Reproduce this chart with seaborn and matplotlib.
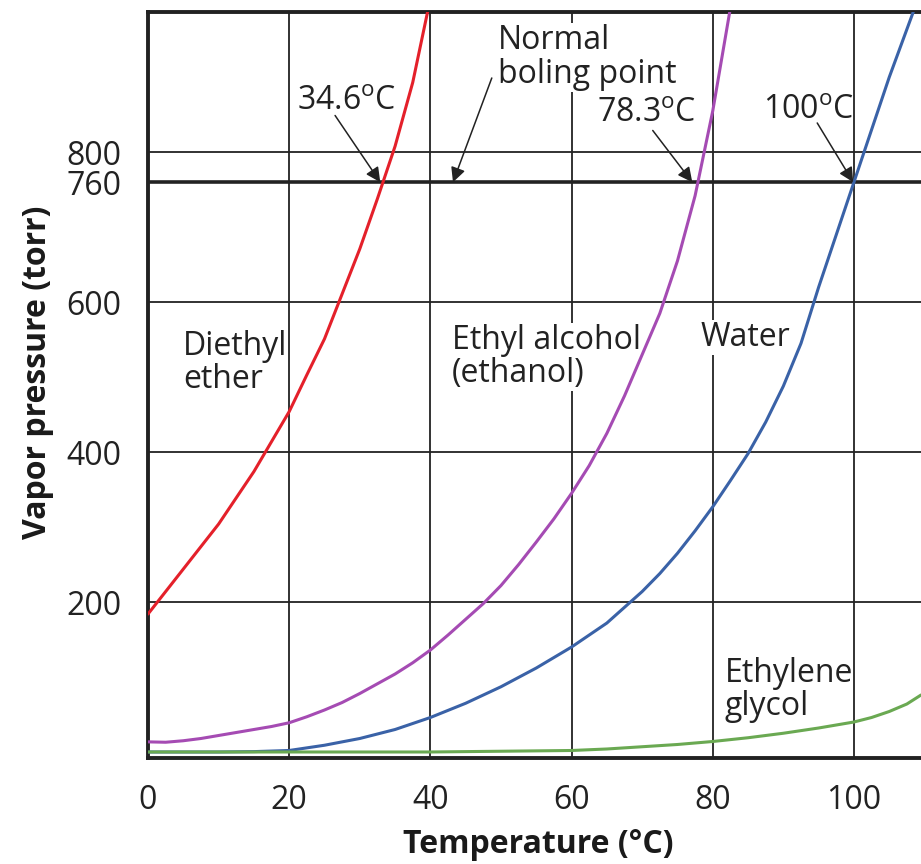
import matplotlib
matplotlib.use("Agg")
import matplotlib.pyplot as plt
import numpy as np
import pandas as pd
import seaborn as sns

# ---- data ----
temp_ether = [0, 2.5, 5, 7.5, 10, 12.5, 15, 17.5, 20, 22.5, 25, 27.5, 30, 32.5, 35, 37.5, 39.6]
vp_ether = [184, 214, 244, 274, 304, 339, 374, 414, 454, 503, 551, 611, 671, 738, 808, 893, 987]

temp_ethanol = [0, 2.5, 5, 7.5, 10, 12.5, 15, 17.5, 20, 22.5, 25, 27.5, 30, 32.5, 35, 37.5,
                40, 42.5, 45, 47.5, 50, 52.5, 55, 57.5, 60, 62.5, 65, 67.5, 70, 72.5, 75,
                77.5, 80, 82.4]
vp_ethanol = [13.5, 13, 15, 18, 22, 26, 30, 34, 39, 47, 56, 66, 78, 91, 104, 119,
              136, 156, 177, 198, 222, 250, 280, 311, 345, 382, 425, 475, 530, 585, 655,
              742, 855, 987]

temp_water = [0, 5, 10, 15, 20, 25, 30, 35, 40, 45, 50, 55, 60, 65, 70, 72.5, 75, 77.5,
              80, 82.5, 85, 87.5, 90, 92.5, 95, 97.5, 100, 102.5, 105, 108.4]
vp_water = [0, 0, 0, 0.5, 2, 9, 18, 30, 46, 65, 87, 112, 140, 172, 214, 238, 265, 295,
            327, 362, 398, 440, 488, 545, 620, 690, 760, 830, 900, 987]

temp_glycol = [0, 10, 20, 30, 40, 50, 60, 65, 70, 75, 80, 85, 90, 95, 100, 102.5, 105, 107.5, 109.5]
vp_glycol = [0, 0, 0, 0, 0, 1, 2, 4, 7, 10, 14, 19, 25, 32, 40, 46, 54, 64, 76]

liquids = ["Diethyl ether", "Ethyl alcohol", "Water", "Ethylene glycol"]
colors = ["#e4202a", "#a54bb3", "#3a62a7", "#6aa952"]

x_ticks = [0, 20, 40, 60, 80, 100]
y_ticks = [200, 400, 600, 760, 800]

boiling_labels = ["34.6$^{\\mathrm{o}}$C", "78.3$^{\\mathrm{o}}$C", "100$^{\\mathrm{o}}$C"]

# ---- build long-form table ----
frames = []
for name, t, p in zip(liquids,
                      [temp_ether, temp_ethanol, temp_water, temp_glycol],
                      [vp_ether, vp_ethanol, vp_water, vp_glycol]):
    frames.append(pd.DataFrame({"Temperature": t, "Pressure": p, "Liquid": name}))
df = pd.concat(frames, ignore_index=True)

sns.set_theme(style="white")
plt.rcParams["font.family"] = ["Open Sans", "DejaVu Sans"]
plt.rcParams["mathtext.fontset"] = "custom"
plt.rcParams["mathtext.rm"] = "Open Sans"
plt.rcParams["mathtext.it"] = "Open Sans"

fig, ax = plt.subplots(figsize=(9.21, 8.64), dpi=100)
fig.subplots_adjust(left=0.1607, right=1.0, bottom=0.1227, top=0.9861)

sns.lineplot(data=df, x="Temperature", y="Pressure", hue="Liquid",
             palette=dict(zip(liquids, colors)), linewidth=2.2,
             estimator=None, legend=False, ax=ax, zorder=5)

ax.set_xlim(0, 109.5)
ax.set_ylim(-8, 987)
ax.set_xticks(x_ticks)
ax.set_yticks(y_ticks)
ax.tick_params(axis="both", length=0, labelsize=23, colors="#222222")
ax.tick_params(axis="x", pad=19)
ax.tick_params(axis="y", pad=19)

ax.grid(True, color="#222222", linewidth=1.3)
ax.set_axisbelow(True)
for tick_val, gl in zip(y_ticks, ax.yaxis.get_gridlines()):
    if tick_val == 760:
        gl.set_linewidth(2.6)

for side in ["top", "left", "bottom"]:
    ax.spines[side].set_visible(True)
    ax.spines[side].set_color("#222222")
    ax.spines[side].set_linewidth(2.8)
ax.spines["right"].set_visible(False)

ax.set_xlabel("Temperature (°C)", fontsize=23, fontweight="bold", color="#1a1a1a")
ax.set_ylabel("Vapor pressure (torr)", fontsize=23, fontweight="bold", color="#1a1a1a")
ax.xaxis.set_label_coords(0.505, -0.094)
ax.yaxis.set_label_coords(-0.122, 0.517)

base_kw = dict(fontsize=23, color="#222222", ha="left", va="baseline", zorder=3)
box = dict(facecolor="white", edgecolor="none", pad=0.8)

ax.text(5.0, 485, "Diethyl\nether", linespacing=1.0, **base_kw)
ax.text(43.0, 494, "Ethyl alcohol\n(ethanol)", linespacing=1.0, bbox=box, **base_kw)
ax.text(78.2, 542, "Water", bbox=box, **base_kw)
ax.text(81.7, 49, "Ethylene\nglycol", linespacing=1.0, **base_kw)
ax.text(49.6, 892, "Normal\nboling point", linespacing=1.05, bbox=box, **base_kw)

arrow_kw = dict(arrowstyle="-|>", color="#222222", lw=1.1,
                mutation_scale=22, shrinkA=0, shrinkB=0)
lab_kw = dict(fontsize=23, color="#222222", ha="left", va="baseline", zorder=6)

ax.text(21.1, 856, boiling_labels[0], **lab_kw)
ax.text(63.6, 840, boiling_labels[1], **lab_kw)
ax.text(87.1, 844, boiling_labels[2], **lab_kw)

ax.annotate("", xy=(32.9, 760), xytext=(26.5, 849), arrowprops=arrow_kw, zorder=6)
ax.annotate("", xy=(43.2, 760), xytext=(48.7, 899), arrowprops=arrow_kw, zorder=6)
ax.annotate("", xy=(77.1, 760), xytext=(71.5, 829), arrowprops=arrow_kw, zorder=6)
ax.annotate("", xy=(99.9, 760), xytext=(94.8, 839), arrowprops=arrow_kw, zorder=6)

fig.savefig("out.png", dpi=100)
